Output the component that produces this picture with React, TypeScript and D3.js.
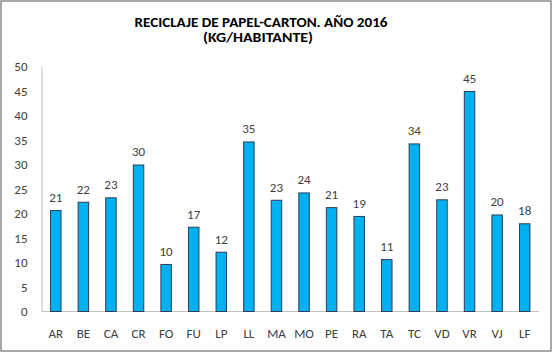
import React from "react";
import * as d3 from "d3";

const categories = ["AR","BE","CA","CR","FO","FU","LP","LL","MA","MO","PE","RA","TA","TC","VD","VR","VJ","LF"];
const values = [20.6,22.3,23.2,29.9,9.6,17.2,12.1,34.6,22.7,24.2,21.2,19.4,10.6,34.2,22.8,44.9,19.7,17.9];
const yTicks = [0,5,10,15,20,25,30,35,40,45,50];
const titleLines = ["RECICLAJE DE PAPEL-CARTON. AÑO 2016", "(KG/HABITANTE)"];

const W = 553, H = 356;
const left = 42, right = 538.5, top = 66.5, bottom = 311.5;
const font = "Carlito, Calibri, Lato, 'Open Sans', 'Liberation Sans', sans-serif";

export default function App() {
  const x = d3.scaleBand<string>().domain(categories).range([left, right]).paddingInner(0.62).paddingOuter(0.31);
  const y = d3.scaleLinear().domain([0, 50]).range([bottom, top]);
  return (
    <div style={{ position: "fixed", left: 0, top: 0 }}>
      <svg width={W} height={H} style={{ display: "block", background: "#fff" }}>
        <rect x={1} y={1} width={550} height={350} fill="#fff" stroke="#8c8c8c" strokeWidth={1.5} />
        <text x={261} y={26.5} textAnchor="middle" fontFamily={font} fontWeight="bold" fontSize={13.5} fill="#000" textLength={253} lengthAdjust="spacingAndGlyphs">{titleLines[0]}</text>
        <text x={258} y={42} textAnchor="middle" fontFamily={font} fontWeight="bold" fontSize={13.5} fill="#000" textLength={110} lengthAdjust="spacingAndGlyphs">{titleLines[1]}</text>
        {yTicks.map((t) => (
          <text key={t} x={27.5} y={y(t) + 4.5} textAnchor="end" fontFamily={font} fontSize={13} fill="#404040">{t}</text>
        ))}
        <line x1={left} x2={left} y1={top} y2={bottom} stroke="#bfbfbf" strokeWidth={1} />
        <line x1={left} x2={right} y1={bottom} y2={bottom} stroke="#bfbfbf" strokeWidth={1} />
        {categories.map((c, i) => (
          <g key={c}>
            <rect x={x(c)!} y={y(values[i])} width={x.bandwidth()} height={bottom - y(values[i])} fill="#00B0F0" stroke="#2b3f55" strokeWidth={1} />
            <text x={x(c)! + x.bandwidth() / 2} y={y(values[i]) - 8.5} textAnchor="middle" fontFamily={font} fontSize={13} fill="#404040">{Math.round(values[i])}</text>
            <text x={x(c)! + x.bandwidth() / 2} y={338} textAnchor="middle" fontFamily={font} fontSize={13} fill="#404040">{c}</text>
          </g>
        ))}
      </svg>
    </div>
  );
}
